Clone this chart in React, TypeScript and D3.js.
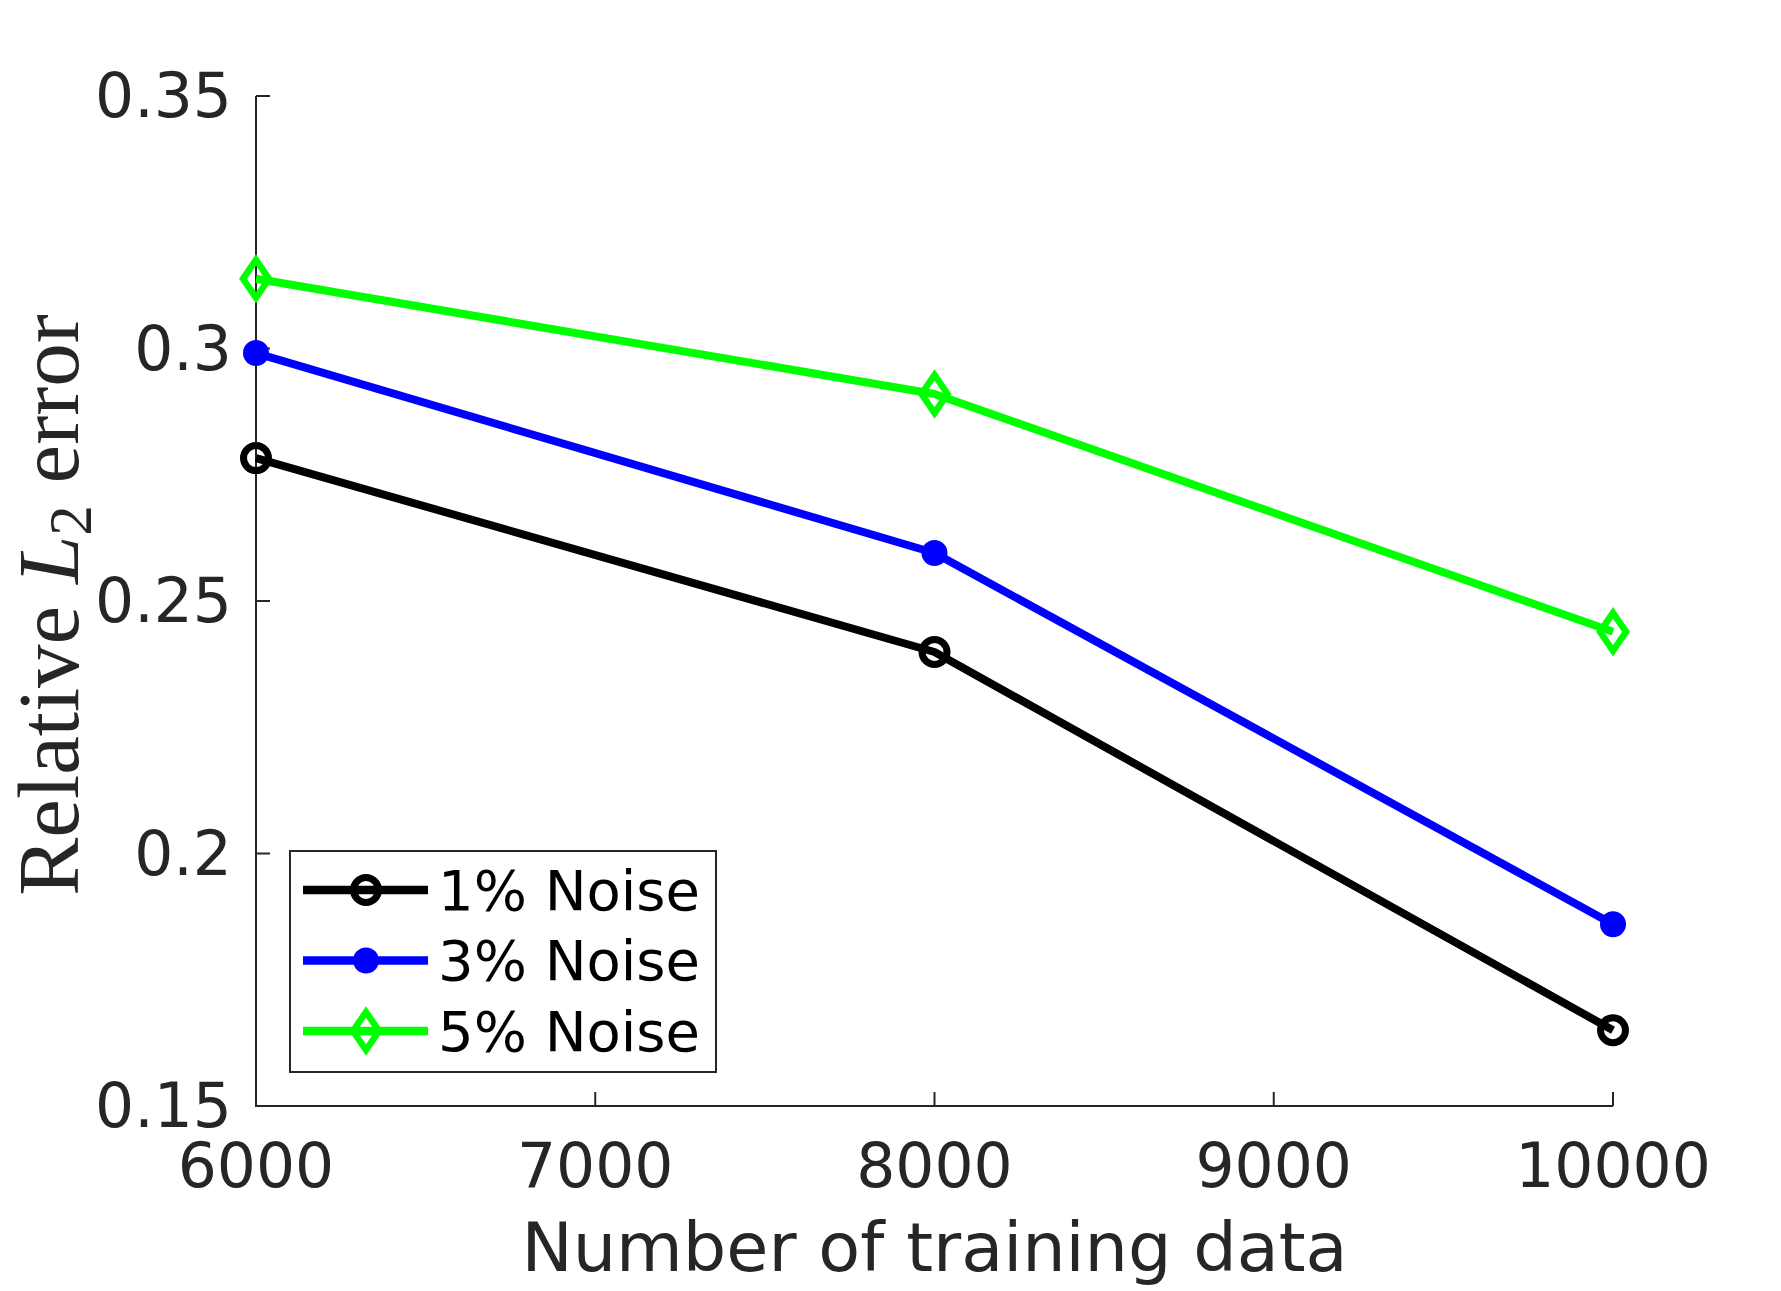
import { useEffect } from "react"
import * as d3 from "d3"

// training set sizes and relative L2 errors per noise level
const trainingSizes = [6000, 8000, 10000]
const noise1 = [0.2783, 0.2399, 0.165]
const noise3 = [0.2991, 0.2595, 0.186]
const noise5 = [0.3138, 0.291, 0.2439]
const seriesNames = ["1% Noise", "3% Noise", "5% Noise"]
const xTicks = [6000, 7000, 8000, 9000, 10000]
const yTicks = [0.15, 0.2, 0.25, 0.3, 0.35]

const axisColor = "#262626"
const sans = "'DejaVu Sans', sans-serif"
const serif = "'Liberation Serif', 'DejaVu Serif', serif"

type Marker = "circle" | "dot" | "diamond"

interface Series {
  name: string
  values: number[]
  color: string
  marker: Marker
}

const series: Series[] = [
  { name: seriesNames[0], values: noise1, color: "#000000", marker: "circle" },
  { name: seriesNames[1], values: noise3, color: "#0000ff", marker: "dot" },
  { name: seriesNames[2], values: noise5, color: "#00ff00", marker: "diamond" },
]

function MarkerShape({ kind, color, cx, cy }: { kind: Marker; color: string; cx: number; cy: number }) {
  if (kind === "circle") {
    return <circle cx={cx} cy={cy} r={12.5} fill="none" stroke={color} strokeWidth={7} />
  }
  if (kind === "dot") {
    return <circle cx={cx} cy={cy} r={13} fill={color} />
  }
  const w = 13
  const h = 19
  return (
    <path
      d={`M${cx},${cy - h}L${cx + w},${cy}L${cx},${cy + h}L${cx - w},${cy}Z`}
      fill="none"
      stroke={color}
      strokeWidth={6.5}
      strokeLinejoin="miter"
    />
  )
}

export default function App() {
  useEffect(() => {
    document.body.style.margin = "0"
  }, [])

  const width = 1781
  const height = 1291
  const left = 256
  const right = 1613
  const top = 96
  const bottom = 1106

  const x = d3.scaleLinear().domain([6000, 10000]).range([left, right])
  const y = d3.scaleLinear().domain([0.15, 0.35]).range([bottom, top])

  const line = d3
    .line<number>()
    .x((_, i) => x(trainingSizes[i]))
    .y((d) => y(d))

  const legend = { x: 290, y: 851, w: 426, h: 221, rowH: 70.5 }

  return (
    <svg width={width} height={height} style={{ display: "block", background: "#fff" }}>
      <rect width={width} height={height} fill="#fff" />

      {/* axes */}
      <g stroke={axisColor} strokeWidth={2} fill="none">
        <path d={`M${left},${top}V${bottom}H${right}`} />
        {yTicks.map((t) => (
          <line key={`yt${t}`} x1={left} x2={left + 14} y1={y(t)} y2={y(t)} />
        ))}
        {xTicks.map((t) => (
          <line key={`xt${t}`} x1={x(t)} x2={x(t)} y1={bottom} y2={bottom - 14} />
        ))}
      </g>

      <g fill={axisColor} fontFamily={sans} fontSize={61.5}>
        {yTicks.map((t) => (
          <text key={`yl${t}`} x={left - 24} y={y(t)} textAnchor="end" dominantBaseline="central">
            {d3.format("")(t)}
          </text>
        ))}
        {xTicks.map((t) => (
          <text key={`xl${t}`} x={x(t)} y={bottom + 81} textAnchor="middle">
            {t}
          </text>
        ))}
      </g>

      <text
        x={(left + right) / 2}
        y={1271}
        textAnchor="middle"
        fontFamily={sans}
        fontSize={68.5}
        fill={axisColor}
      >
        Number of training data
      </text>

      <text
        transform={`translate(78,${(top + bottom) / 2 + 4}) rotate(-90)`}
        textAnchor="middle"
        fontFamily={serif}
        fontSize={87}
        fill={axisColor}
      >
        Relative{" "}
        <tspan fontStyle="italic">L</tspan>
        <tspan fontSize={61} dy={13}>2</tspan>
        <tspan dy={-13}> error</tspan>
      </text>

      {/* data */}
      {series.map((s) => (
        <g key={s.name}>
          <path d={line(s.values) ?? ""} fill="none" stroke={s.color} strokeWidth={8} strokeLinejoin="round" />
          {s.values.map((v, i) => (
            <MarkerShape key={i} kind={s.marker} color={s.color} cx={x(trainingSizes[i])} cy={y(v)} />
          ))}
        </g>
      ))}

      {/* legend */}
      <g>
        <rect
          x={legend.x}
          y={legend.y}
          width={legend.w}
          height={legend.h}
          fill="#fff"
          stroke={axisColor}
          strokeWidth={2}
        />
        {series.map((s, i) => {
          const cy = legend.y + 39 + i * legend.rowH
          return (
            <g key={`lg${s.name}`}>
              <line x1={303} x2={428} y1={cy} y2={cy} stroke={s.color} strokeWidth={8.5} />
              <MarkerShape kind={s.marker} color={s.color} cx={366} cy={cy} />
              <text x={438} y={cy} dominantBaseline="central" fontFamily={sans} fontSize={56} fill="#000">
                {s.name}
              </text>
            </g>
          )
        })}
      </g>
    </svg>
  )
}
